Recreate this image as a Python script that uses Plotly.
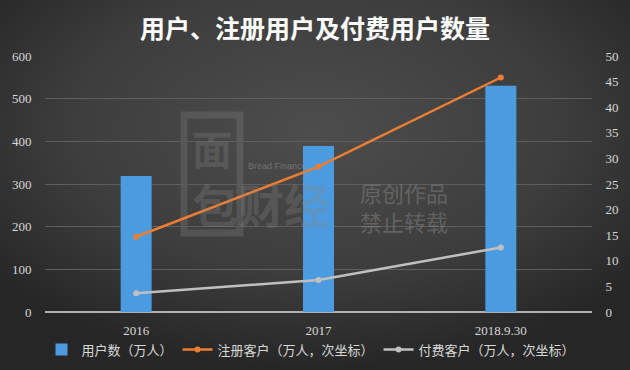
import base64
import plotly.graph_objects as go

categories = ["2016", "2017", "2018.9.30"]
users = [319, 389, 530]
registered = [14.7, 28.4, 45.8]
paying = [3.65, 6.25, 12.6]

left_ticks = [0, 100, 200, 300, 400, 500, 600]
right_ticks = [0, 5, 10, 15, 20, 25, 30, 35, 40, 45, 50]

tick_font = dict(family="Liberation Serif, DejaVu Serif, serif", size=13, color="#d8d8d8")
cjk = "Noto Sans CJK SC, sans-serif"

# background radial gradient (as an svg image)
svg = ('<svg xmlns="http://www.w3.org/2000/svg" width="630" height="370" viewBox="0 0 630 370">'
       '<defs><radialGradient id="g" cx="50%" cy="35%" r="65%">'
       '<stop offset="0%" stop-color="#4d4d4d"/><stop offset="60%" stop-color="#3d3d3d"/>'
       '<stop offset="100%" stop-color="#262626"/></radialGradient></defs>'
       '<rect width="630" height="370" fill="url(#g)"/></svg>')
bg_src = "data:image/svg+xml;base64," + base64.b64encode(svg.encode()).decode()

L, R, T, B, W, H = 45, 38, 56, 58, 630, 370
PW, PH = W - L - R, H - T - B

def px(x):
    return (x - L) / PW

def py(y):
    return (H - B - y) / PH

fig = go.Figure()
fig.add_trace(go.Bar(
    x=categories, y=users, name="用户数（万人）",
    marker=dict(color="#4a9be0", line=dict(width=0)),
    width=0.17,
))
fig.add_trace(go.Scatter(
    x=categories, y=registered, name="注册客户（万人，次坐标）", yaxis="y2",
    mode="lines+markers", line=dict(color="#ed7d31", width=2.5),
    marker=dict(size=6, color="#ed7d31"),
))
fig.add_trace(go.Scatter(
    x=categories, y=paying, name="付费客户（万人，次坐标）", yaxis="y2",
    mode="lines+markers", line=dict(color="#c0c0c0", width=2.5),
    marker=dict(size=6, color="#c0c0c0"),
))

wm = "rgba(135,135,135,0.28)"
fig.update_layout(
    width=W, height=H,
    paper_bgcolor="#3b3b3b", plot_bgcolor="rgba(0,0,0,0)",
    margin=dict(l=L, r=R, t=T, b=B, autoexpand=False),
    images=[dict(source=bg_src, xref="paper", yref="paper", x=px(0), y=py(0),
                 sizex=W / PW, sizey=H / PH, sizing="stretch", xanchor="left",
                 yanchor="top", layer="below")],
    title=dict(text="用户、注册用户及付费用户数量", x=0.5, xanchor="center", y=0.92, yanchor="middle",
               font=dict(family=cjk, size=25, color="#ffffff", weight="bold")),
    xaxis=dict(type="category", tickfont=tick_font, showgrid=False, ticks="outside",
               ticklen=6, tickcolor="rgba(0,0,0,0)",
               showline=False, zeroline=False, automargin=False),
    yaxis=dict(range=[0, 600], tickvals=left_ticks, tickfont=tick_font,
               gridcolor="#5e5e5e", gridwidth=1, zeroline=True, zerolinecolor="#b0b0b0",
               zerolinewidth=1.5, showline=False, ticks="outside", ticklen=10,
               tickcolor="rgba(0,0,0,0)", automargin=False),
    yaxis2=dict(range=[0, 50], tickvals=right_ticks, tickfont=tick_font, overlaying="y",
                side="right", showgrid=False, zeroline=False, showline=False,
                ticks="outside", ticklen=10, tickcolor="rgba(0,0,0,0)", automargin=False),
    legend=dict(orientation="h", x=px(311), xanchor="center",
                y=0.055, yanchor="middle", yref="container", itemwidth=30,
                font=dict(family=cjk, size=13, color="#d8d8d8"), bgcolor="rgba(0,0,0,0)",
                tracegroupgap=0),
    showlegend=True,
    shapes=[
        dict(type="rect", xref="paper", yref="paper", x0=px(184), x1=px(240),
             y0=py(233), y1=py(115), line=dict(color=wm, width=7),
             fillcolor="rgba(0,0,0,0)", layer="below"),
    ],
    annotations=[
        dict(text="面", xref="paper", yref="paper", x=px(212), y=py(148),
             xanchor="center", yanchor="middle", showarrow=False,
             font=dict(family=cjk, size=40, color=wm, weight="bold")),
        dict(text="包财经", xref="paper", yref="paper", x=px(190), y=py(203),
             xanchor="left", yanchor="middle", showarrow=False,
             font=dict(family=cjk, size=46, color=wm, weight="bold")),
        dict(text="原创作品<br>禁止转载", xref="paper", yref="paper", x=px(358), y=py(206),
             xanchor="left", yanchor="middle", showarrow=False, align="left",
             font=dict(family=cjk, size=22, color="rgba(140,140,140,0.45)")),
        dict(text="Bread Finance", xref="paper", yref="paper", x=px(246), y=py(166),
             xanchor="left", yanchor="middle", showarrow=False,
             font=dict(family="Liberation Sans, sans-serif", size=9, color="rgba(150,150,150,0.55)")),
    ],
)

fig.write_html("out.html", config={"displayModeBar": False},
               post_script="document.body.style.margin='0';")
